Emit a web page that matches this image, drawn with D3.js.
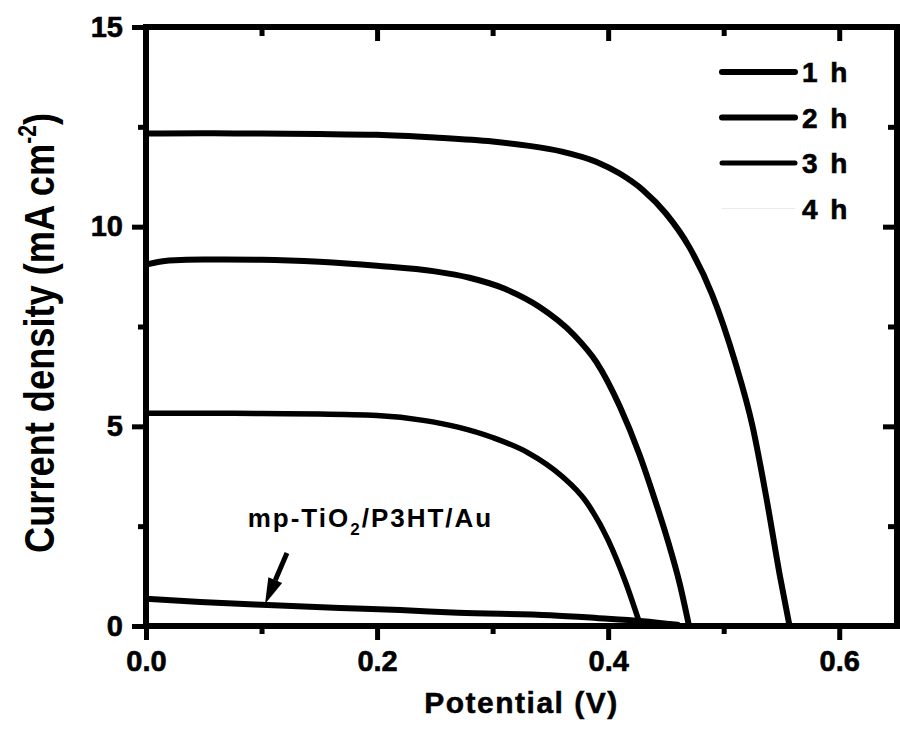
<!DOCTYPE html>
<html>
<head>
<meta charset="utf-8">
<script src="https://cdn.jsdelivr.net/npm/d3@7"></script>
<style>
  body { margin: 0; background: #fff; }
  svg { display: block; }
  text { font-family: "Liberation Sans", Arial, sans-serif; font-weight: bold; fill: #000; }
</style>
</head>
<body>
<svg id="chart" width="900" height="742"></svg>
<script>
// Data
const potential1h = [0, 0.05, 0.1, 0.15, 0.2, 0.25, 0.3, 0.33, 0.36, 0.39, 0.41, 0.43, 0.45, 0.47, 0.49, 0.51, 0.525, 0.537, 0.549, 0.557];
const current1h   = [12.33, 12.34, 12.33, 12.32, 12.3, 12.23, 12.13, 12.03, 11.88, 11.62, 11.33, 10.92, 10.33, 9.5, 8.3, 6.6, 5.0, 3.2, 1.2, 0];

const potential2h = [0, 0.02, 0.05, 0.1, 0.15, 0.2, 0.25, 0.28, 0.31, 0.34, 0.37, 0.39, 0.41, 0.427, 0.44, 0.452, 0.462, 0.47];
const current2h   = [9.05, 9.15, 9.18, 9.17, 9.12, 9.02, 8.88, 8.72, 8.45, 8.0, 7.3, 6.6, 5.5, 4.3, 3.2, 2.1, 1.05, 0];

const potential3h = [0, 0.05, 0.1, 0.15, 0.2, 0.24, 0.27, 0.3, 0.33, 0.36, 0.38, 0.4, 0.415, 0.428];
const current3h   = [5.33, 5.33, 5.32, 5.31, 5.27, 5.15, 4.98, 4.72, 4.35, 3.75, 3.15, 2.15, 1.1, 0];

const potentialRef = [0, 0.047, 0.1, 0.168, 0.22, 0.27, 0.35, 0.39, 0.43, 0.46];
const currentRef   = [0.68, 0.6, 0.53, 0.45, 0.4, 0.33, 0.27, 0.2, 0.12, 0.03];

const legendNames = ["1 h", "2 h", "3 h", "4 h"];
const refLabel = ["mp-TiO", "2", "/P3HT/Au"];
const arrowTail = [0.122, 1.83];
const arrowTip = [0.103, 0.55];
const labelAt = [0.088, 2.48];

const xMajorTicks = [0, 0.2, 0.4, 0.6];
const xMinorTicks = [0.1, 0.3, 0.5];
const yMajorTicks = [0, 5, 10, 15];
const yMinorTicks = [2.5, 7.5, 12.5];

// Ukuran
const margin = { top: 27, right: 3, bottom: 116, left: 146 };
const width = 900 - margin.left - margin.right;
const height = 742 - margin.top - margin.bottom;

const svg = d3.select("#chart")
    .append("g")
    .attr("transform", `translate(${margin.left},${margin.top})`);

const x = d3.scaleLinear().domain([0, 0.65]).range([0, width]);
const y = d3.scaleLinear().domain([0, 15]).range([height, 0]);

// curves
const series = [
    { v: potential1h, j: current1h, w: 6 },
    { v: potential2h, j: current2h, w: 6 },
    { v: potential3h, j: current3h, w: 5.5 },
    { v: potentialRef, j: currentRef, w: 6 }
];

const line = d3.line()
    .x(d => x(d[0]))
    .y(d => y(d[1]))
    .curve(d3.curveMonotoneX);

series.forEach(s => {
    svg.append("path")
        .datum(s.v.map((v, i) => [v, s.j[i]]))
        .attr("d", line)
        .attr("fill", "none")
        .attr("stroke", "#000")
        .attr("stroke-width", s.w)
        .attr("stroke-linejoin", "round")
        .attr("stroke-linecap", "round");
});

// axes
function styleAxis(g) {
    g.select(".domain").remove();
    g.selectAll(".tick line").attr("stroke", "#000").attr("stroke-width", 5);
    g.selectAll(".tick text")
        .style("font-size", "29px")
        .attr("fill", "#000")
        .attr("stroke", "#000")
        .attr("stroke-width", 0.6);
}

svg.append("g")
    .attr("transform", `translate(0,${height})`)
    .call(d3.axisBottom(x).tickValues(xMajorTicks).tickSize(14).tickPadding(10).tickFormat(d3.format(".1f")))
    .call(styleAxis);
svg.append("g")
    .attr("transform", `translate(0,${height})`)
    .call(d3.axisBottom(x).tickValues(xMinorTicks).tickSize(8).tickFormat(""))
    .call(styleAxis);

svg.append("g")
    .call(d3.axisLeft(y).tickValues(yMajorTicks).tickSize(14).tickPadding(9).tickFormat(d3.format("d")))
    .call(styleAxis);
svg.append("g")
    .call(d3.axisLeft(y).tickValues(yMinorTicks).tickSize(8).tickFormat(""))
    .call(styleAxis);

svg.append("g")
    .call(d3.axisTop(x).tickValues(xMajorTicks).tickSize(-14).tickFormat(""))
    .call(styleAxis);
svg.append("g")
    .call(d3.axisTop(x).tickValues(xMinorTicks).tickSize(-9).tickFormat(""))
    .call(styleAxis);

svg.append("g")
    .attr("transform", `translate(${width},0)`)
    .call(d3.axisRight(y).tickValues(yMajorTicks).tickSize(-14).tickFormat(""))
    .call(styleAxis);
svg.append("g")
    .attr("transform", `translate(${width},0)`)
    .call(d3.axisRight(y).tickValues(yMinorTicks).tickSize(-9).tickFormat(""))
    .call(styleAxis);

// frame
svg.append("rect")
    .attr("x", 0).attr("y", 0)
    .attr("width", width).attr("height", height)
    .attr("fill", "none")
    .attr("stroke", "#000")
    .attr("stroke-width", 6);

// legend
const legendWidths = [6, 6, 5, 0.6];
const legendColors = ["#000", "#000", "#000", "#ddd"];
const legend = svg.append("g").attr("transform", "translate(576,45)");
legendNames.forEach((name, i) => {
    const ly = i * 45.5;
    legend.append("line")
        .attr("x1", 0).attr("x2", 73)
        .attr("y1", ly).attr("y2", ly)
        .attr("stroke", legendColors[i])
        .attr("stroke-width", legendWidths[i])
        .attr("stroke-linecap", "round");
    legend.append("text")
        .attr("x", 80).attr("y", ly + 10)
        .style("font-size", "28px")
        .style("letter-spacing", "2.5px")
        .attr("stroke", "#000")
        .attr("stroke-width", 0.6)
        .text(name);
});

// annotation
const note = svg.append("text")
    .attr("x", x(labelAt[0])).attr("y", y(labelAt[1]))
    .style("font-size", "26px")
    .style("letter-spacing", "2px");
note.append("tspan").text(refLabel[0]);
note.append("tspan").attr("dy", 8).style("font-size", "17px").text(refLabel[1]);
note.append("tspan").attr("dy", -8).text(refLabel[2]);

const tx = x(arrowTail[0]), ty = y(arrowTail[1]);
const hx = x(arrowTip[0]), hy = y(arrowTip[1]);
const ang = Math.atan2(hy - ty, hx - tx);
const headLen = 26, headHalf = 7.5;
const bx = hx - headLen * Math.cos(ang), by = hy - headLen * Math.sin(ang);
svg.append("line")
    .attr("x1", tx).attr("y1", ty).attr("x2", bx).attr("y2", by)
    .attr("stroke", "#000").attr("stroke-width", 5);
svg.append("path")
    .attr("d", `M${hx},${hy} L${bx + headHalf * Math.sin(ang)},${by - headHalf * Math.cos(ang)} L${bx - headHalf * Math.sin(ang)},${by + headHalf * Math.cos(ang)} Z`)
    .attr("fill", "#000");

// axis labels
svg.append("text")
    .attr("x", width / 2)
    .attr("y", 686)
    .attr("text-anchor", "middle")
    .style("font-size", "30px")
    .style("letter-spacing", "1.5px")
    .attr("stroke", "#000")
    .attr("stroke-width", 0.5)
    .text("Potential (V)");

const yTitle = d3.select("#chart").append("text")
    .attr("text-anchor", "middle")
    .style("font-size", "43px");
yTitle.append("tspan").text("Current density (mA cm");
yTitle.append("tspan").attr("dy", -18).style("font-size", "25px").text("-2");
yTitle.append("tspan").attr("dy", 18).text(")");
const len = yTitle.node().getComputedTextLength();
const sx = 440 / len;
yTitle.attr("transform", `translate(54,333) rotate(-90) scale(${sx},1)`);
</script>
</body>
</html>
